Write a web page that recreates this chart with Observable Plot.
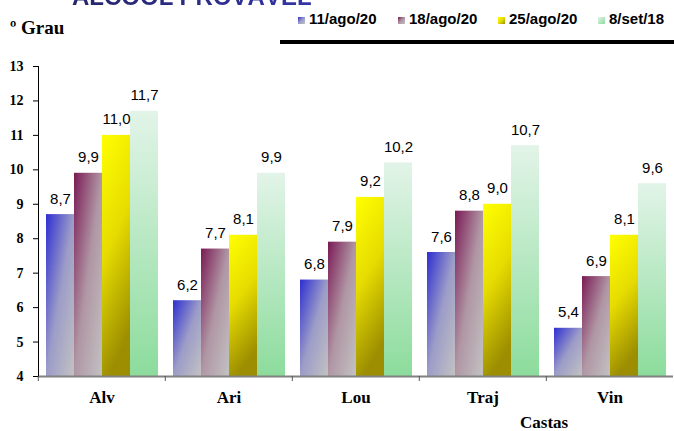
<!DOCTYPE html>
<html><head><meta charset="utf-8">
<script src="https://cdn.jsdelivr.net/npm/d3@7"></script>
<script src="https://cdn.jsdelivr.net/npm/@observablehq/plot@0.6"></script>
<style>
body{margin:0;background:#fff;}
#wrap{position:relative;width:674px;height:431px;overflow:hidden;background:#fff;}
#title{position:absolute;left:72px;top:-17px;font:bold 24px "Liberation Sans",Arial,sans-serif;white-space:nowrap;
  background:linear-gradient(90deg,#25256a,#3434a8);-webkit-background-clip:text;background-clip:text;color:transparent;}
#unit{position:absolute;left:10px;top:17px;font:bold 19px "Liberation Serif","Times New Roman",serif;color:#000;}
#castas{position:absolute;left:520px;top:413px;font:bold 17px "Liberation Serif","Times New Roman",serif;color:#000;}
#legend{position:absolute;left:0;top:10px;font:bold 15px "Liberation Sans",Arial,sans-serif;color:#000;}
.li{position:absolute;top:0;white-space:nowrap;}
.sw{position:absolute;top:7px;width:7px;height:7px;}
#rule{position:absolute;left:280px;top:40px;width:394px;height:4px;background:#000;}
#chart{position:absolute;left:0;top:0;}
</style></head><body>
<div id="wrap">
  <div id="chart"></div>
  <div id="title">ALCOOL PROVÁVEL</div>
  <div id="unit">º Grau</div>
  <div id="legend"></div>
  <div id="rule"></div>
  <div id="castas">Castas</div>
</div>
<script>
const castas = ["Alv", "Ari", "Lou", "Traj", "Vin"];
const datas = ["11/ago/20", "18/ago/20", "25/ago/20", "8/set/18"];
const v11ago20 = [8.7, 6.2, 6.8, 7.6, 5.4];
const v18ago20 = [9.9, 7.7, 7.9, 8.8, 6.9];
const v25ago20 = [11.0, 8.1, 9.2, 9.0, 8.1];
const v8set18 = [11.7, 9.9, 10.2, 10.7, 9.6];
const yTicks = [4, 5, 6, 7, 8, 9, 10, 11, 12, 13];

const series = [v11ago20, v18ago20, v25ago20, v8set18];
const rows = castas.flatMap((c, i) => datas.map((d, j) => ({casta: c, data: d, valor: series[j][i]})));

const grads = [
  {id: "g0", x2: 1, y2: 1, stops: [[0, "#2e2ed2"], [0.5, "#9c9cc8"], [1, "#c2c2c2"]], base: "#6666cc"},
  {id: "g1", x2: 1, y2: 1, stops: [[0, "#7a1a55"], [0.5, "#b096a4"], [1, "#c2c2c2"]], base: "#995577"},
  {id: "g2", x2: 0.25, y2: 1, stops: [[0, "#ffff00"], [0.5, "#e6dc00"], [1, "#9c8e00"]], base: "#dddd00"},
  {id: "g3", x2: 0, y2: 1, stops: [[0, "#e2f4e8"], [1, "#8cdc9c"]], base: "#bbeecc"}
];

const W = 674, H = 431, ML = 37, MR = 0, MT = 66, MB = 55;
const band = (W - ML - MR) / castas.length;

const marks = [];
datas.forEach((d, j) => {
  marks.push(Plot.barY(rows.filter(r => r.data === d), {
    fx: "casta", x: "data", y1: 4, y2: "valor", fill: grads[j].base
  }));
});
marks.push(
  Plot.ruleY([4], {stroke: "#808080", strokeWidth: 2}),
  Plot.frame({anchor: "left", facetAnchor: "left", stroke: "#000"}),
  Plot.axisY({ticks: yTicks, tickSize: 5, tickPadding: 10, fontSize: 14, fontWeight: "bold",
    fontFamily: "Liberation Serif, Times New Roman, serif", label: null, tickFormat: d => d}),
  Plot.axisFx({anchor: "bottom", tickSize: 5, dx: -band / 2, text: null, stroke: "#555", label: null}),
  Plot.axisFx({anchor: "bottom", tickSize: 0, tickPadding: 14, fontSize: 17, fontWeight: "bold",
    fontFamily: "Liberation Serif, Times New Roman, serif", label: null}),
  Plot.text(rows, {fx: "casta", x: "data", y: "valor",
    text: d => d.valor.toFixed(1).replace(".", ","),
    lineAnchor: "bottom", dy: -11, fontSize: 15, fill: "#000",
    fontFamily: "Liberation Sans, Arial, sans-serif"})
);

const chart = Plot.plot({
  width: W, height: H,
  marginLeft: ML, marginRight: MR, marginTop: MT, marginBottom: MB,
  style: {background: "transparent", color: "#000", overflow: "visible"},
  fx: {domain: castas, padding: 0, label: null},
  x: {domain: datas, paddingInner: 0, paddingOuter: 0.225, axis: null},
  y: {domain: [4, 13], axis: null},
  marks
});

const svg = d3.select(chart);
const defs = svg.insert("defs", ":first-child");
grads.forEach(g => {
  const lg = defs.append("linearGradient").attr("id", g.id)
    .attr("x1", 0).attr("y1", 0).attr("x2", g.x2).attr("y2", g.y2);
  g.stops.forEach(([o, c]) => lg.append("stop").attr("offset", o).attr("stop-color", c));
});
grads.forEach(g => {
  chart.querySelectorAll(`[fill="${g.base}"]`).forEach(el => el.setAttribute("fill", `url(#${g.id})`));
});
document.getElementById("chart").appendChild(chart);

const legend = document.getElementById("legend");
datas.forEach((d, j) => {
  const x = 298 + j * 100;
  const sw = document.createElement("div");
  sw.className = "sw";
  sw.style.left = x + "px";
  sw.style.background = `linear-gradient(135deg, ${grads[j].stops.map(s => s[1] + " " + (s[0] * 100) + "%").join(",")})`;
  legend.appendChild(sw);
  const t = document.createElement("div");
  t.className = "li";
  t.style.left = (x + 11) + "px";
  t.textContent = d;
  legend.appendChild(t);
});
</script>
</body></html>
